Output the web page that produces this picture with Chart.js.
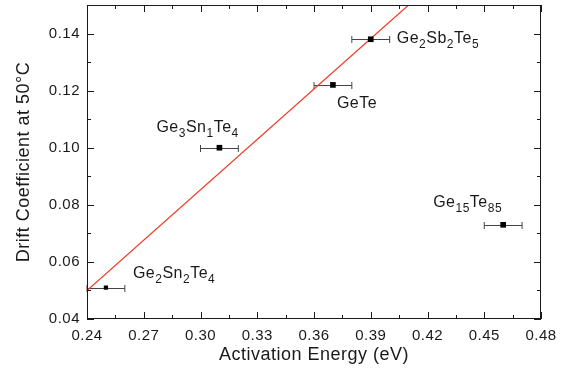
<!DOCTYPE html>
<html>
<head>
<meta charset="utf-8">
<script src="https://cdn.jsdelivr.net/npm/chart.js@4.4.1/dist/chart.umd.min.js"></script>
<style>
  html, body { margin: 0; padding: 0; background: #fff; }
  #c { display: block; }
</style>
</head>
<body>
<canvas id="c" width="563" height="378"></canvas>
<script>
// ── data ──────────────────────────────────────────────────────────────
const names = ["Ge_2Sn_2Te_4", "Ge_3Sn_1Te_4", "GeTe", "Ge_2Sb_2Te_5", "Ge_15Te_85"];
const energy = [0.25, 0.31, 0.37, 0.39, 0.46];
const drift = [0.051, 0.100, 0.122, 0.138, 0.073];
const energyErr = [0.01, 0.01, 0.01, 0.01, 0.01];

// linear fit drawn in red
const fitX = [0.24, 0.41];
const fitY = [0.050, 0.150];

const xTicks = [0.24, 0.27, 0.30, 0.33, 0.36, 0.39, 0.42, 0.45, 0.48];
const yTicks = [0.04, 0.06, 0.08, 0.10, 0.12, 0.14];

// ── label placement (pixel offsets from each point, not data) ─────────
const labelOffsets = [
  [27, -14],   // Ge2Sn2Te4
  [-63, -20],  // Ge3Sn1Te4
  [4, 19],     // GeTe
  [26, -1],    // Ge2Sb2Te5
  [-70, -22],  // Ge15Te85
];

const FONT = "'Liberation Sans', Arial, sans-serif";
const INK = "#1a1a1a";
const SPACING = "0.5px";

// the reference type is set a little loose; apply before layout measures text
const looseText = {
  id: "looseText",
  beforeUpdate(chart) { chart.ctx.letterSpacing = SPACING; },
  beforeDraw(chart) { chart.ctx.letterSpacing = SPACING; },
};

// ticks on all four sides, pointing inward, with a minor tick halfway
const frameTicks = {
  id: "frameTicks",
  afterDatasetsDraw(chart) {
    const { ctx, chartArea: a, scales: { x, y } } = chart;
    ctx.save();
    ctx.strokeStyle = INK;
    ctx.lineWidth = 1;
    ctx.strokeRect(a.left + 0.5, a.top + 0.5, a.right - a.left - 1, a.bottom - a.top - 1);
    ctx.beginPath();
    const xs = [];
    for (let i = 0; i < xTicks.length; i++) {
      xs.push([xTicks[i], 7]);
      if (i < xTicks.length - 1) xs.push([(xTicks[i] + xTicks[i + 1]) / 2, 4]);
    }
    for (const [v, len] of xs) {
      const px = Math.round(x.getPixelForValue(v)) + 0.5;
      ctx.moveTo(px, a.bottom); ctx.lineTo(px, a.bottom - len);
      ctx.moveTo(px, a.top); ctx.lineTo(px, a.top + len);
    }
    const ys = [];
    for (let i = 0; i < yTicks.length; i++) {
      ys.push([yTicks[i], 7]);
      ys.push([yTicks[i] + 0.01, 4]);
    }
    for (const [v, len] of ys) {
      const py = Math.round(y.getPixelForValue(v)) + 0.5;
      ctx.moveTo(a.left, py); ctx.lineTo(a.left + len, py);
      ctx.moveTo(a.right, py); ctx.lineTo(a.right - len, py);
    }
    ctx.stroke();
    ctx.restore();
  },
};

// horizontal error bars with caps
const errorBars = {
  id: "errorBars",
  beforeDatasetsDraw(chart) {
    const { ctx, scales: { x, y } } = chart;
    ctx.save();
    ctx.strokeStyle = "#444";
    ctx.lineWidth = 1;
    ctx.beginPath();
    energy.forEach((e, i) => {
      const x0 = x.getPixelForValue(e - energyErr[i]);
      const x1 = x.getPixelForValue(e + energyErr[i]);
      const py = Math.round(y.getPixelForValue(drift[i])) + 0.5;
      ctx.moveTo(x0, py); ctx.lineTo(x1, py);
      ctx.moveTo(x0, py - 3.5); ctx.lineTo(x0, py + 3.5);
      ctx.moveTo(x1, py - 3.5); ctx.lineTo(x1, py + 3.5);
    });
    ctx.stroke();
    ctx.restore();
  },
};

// compound names with subscripts: "Ge_2Sb_2" -> Ge, sub 2, Sb, sub 2
function drawFormula(ctx, text, x, y) {
  const parts = text.split(/(_\d+)/).filter(Boolean);
  let cx = x;
  for (const p of parts) {
    if (p[0] === "_") {
      ctx.font = "12px " + FONT;
      ctx.fillText(p.slice(1), cx, y + 6);
      cx += ctx.measureText(p.slice(1)).width;
    } else {
      ctx.font = "16px " + FONT;
      ctx.fillText(p, cx, y);
      cx += ctx.measureText(p).width;
    }
  }
}

const pointLabels = {
  id: "pointLabels",
  afterDatasetsDraw(chart) {
    const { ctx, scales: { x, y } } = chart;
    ctx.save();
    ctx.fillStyle = INK;
    ctx.textBaseline = "middle";
    names.forEach((n, i) => {
      const px = x.getPixelForValue(energy[i]) + labelOffsets[i][0];
      const py = y.getPixelForValue(drift[i]) + labelOffsets[i][1];
      drawFormula(ctx, n, px, py);
    });
    ctx.restore();
  },
};

new Chart(document.getElementById("c"), {
  type: "scatter",
  data: {
    datasets: [
      {
        type: "line",
        data: fitX.map((v, i) => ({ x: v, y: fitY[i] })),
        borderColor: "#ee3a22",
        borderWidth: 1.2,
        pointRadius: 0,
        fill: false,
        clip: 0,
        order: 2,
      },
      {
        data: energy.map((v, i) => ({ x: v, y: drift[i] })),
        pointStyle: "rect",
        pointRadius: [3, 4, 4, 4, 4],
        backgroundColor: "#000",
        borderColor: "#000",
        borderWidth: 0,
        order: 1,
      },
    ],
  },
  options: {
    responsive: false,
    animation: false,
    devicePixelRatio: 1,
    layout: { padding: { top: 5, right: 22, left: 0, bottom: 0 } },
    plugins: { legend: { display: false }, tooltip: { enabled: false } },
    scales: {
      x: {
        type: "linear",
        min: 0.24,
        max: 0.48,
        afterBuildTicks: (s) => { s.ticks = xTicks.map((v) => ({ value: v })); },
        afterFit: (s) => { s.height = 59; s.paddingLeft = 0; s.paddingRight = 0; },
        grid: { display: false, drawTicks: false },
        border: { display: false },
        ticks: {
          padding: 8,
          color: INK,
          font: { family: FONT, size: 15 },
          maxRotation: 0,
          callback: (v) => v.toFixed(2),
        },
        title: {
          display: true,
          text: "Activation Energy (eV)",
          color: INK,
          font: { family: FONT, size: 18 },
          padding: { top: 0, bottom: 12 },
        },
      },
      y: {
        type: "linear",
        min: 0.04,
        max: 0.15,
        afterBuildTicks: (s) => { s.ticks = yTicks.map((v) => ({ value: v })); },
        afterFit: (s) => { s.width = 87; s.paddingTop = 0; s.paddingBottom = 0; },
        grid: { display: false, drawTicks: false },
        border: { display: false },
        ticks: {
          padding: 7,
          color: INK,
          font: { family: FONT, size: 15 },
          callback: (v) => v.toFixed(2),
        },
        title: {
          display: true,
          text: "Drift Coefficient at 50°C",
          color: INK,
          font: { family: FONT, size: 18 },
          padding: { top: 13, bottom: 0 },
        },
      },
    },
  },
  plugins: [looseText, errorBars, frameTicks, pointLabels],
});
</script>
</body>
</html>
